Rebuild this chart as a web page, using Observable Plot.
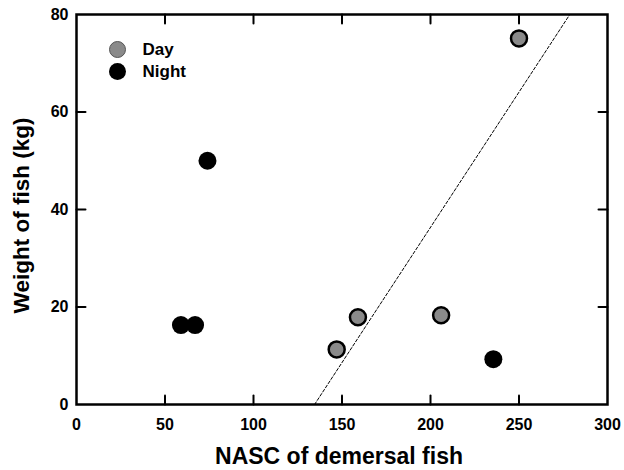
<!DOCTYPE html>
<html><head><meta charset="utf-8">
<script src="https://cdn.jsdelivr.net/npm/d3@7"></script>
<script src="https://cdn.jsdelivr.net/npm/@observablehq/plot@0.6"></script>
<style>
body{margin:0;background:#fff;}
#chart svg{font-family:"Liberation Sans",Arial,sans-serif;}
</style>
</head><body><div id="chart"></div>
<script>
const dayNASC = [147, 159, 206, 250];
const dayWeight = [11.3, 17.9, 18.3, 75.1];
const nightNASC = [74, 59, 67, 235.5];
const nightWeight = [50, 16.3, 16.3, 9.3];
const lineX = [134.5, 278.7];
const lineY = [0, 80];
const xTicks = [0, 50, 100, 150, 200, 250, 300];
const yTicks = [0, 20, 40, 60, 80];
const innerXTicks = [50, 100, 150, 200, 250];
const innerYTicks = [20, 40, 60];
const legendLabels = ["Day", "Night"];
const xTitle = "NASC of demersal fish";
const yTitle = "Weight of fish (kg)";

const day = dayNASC.map((x, i) => ({x, y: dayWeight[i]}));
const night = nightNASC.map((x, i) => ({x, y: nightWeight[i]}));
const fitLine = lineX.map((x, i) => ({x, y: lineY[i]}));
const tickShape = {draw(ctx, l) { ctx.moveTo(0, 0); ctx.lineTo(0, -l); }};
const TL = 9;

const chart = Plot.plot({
  width: 624, height: 470,
  marginLeft: 76, marginRight: 17, marginTop: 14, marginBottom: 66,
  x: {domain: [0, 300]},
  y: {domain: [0, 80]},
  style: {fontFamily: "'Liberation Sans', Arial, sans-serif", fontWeight: "bold", fontSize: "16px", color: "#000"},
  marks: [
    Plot.line(fitLine, {x: "x", y: "y", stroke: "#000", strokeWidth: 1, strokeDasharray: "3,2", clip: true}),
    Plot.vector(innerXTicks, {x: d => d, frameAnchor: "bottom", rotate: 0, length: TL, anchor: "start", shape: tickShape, stroke: "#000", strokeWidth: 2}),
    Plot.vector(innerXTicks, {x: d => d, frameAnchor: "top", rotate: 180, length: TL, anchor: "start", shape: tickShape, stroke: "#000", strokeWidth: 2}),
    Plot.vector(innerYTicks, {y: d => d, frameAnchor: "left", rotate: 90, length: TL, anchor: "start", shape: tickShape, stroke: "#000", strokeWidth: 2}),
    Plot.vector(innerYTicks, {y: d => d, frameAnchor: "right", rotate: -90, length: TL, anchor: "start", shape: tickShape, stroke: "#000", strokeWidth: 2}),
    Plot.frame({stroke: "#000", strokeWidth: 2.5}),
    Plot.axisX({ticks: xTicks, tickSize: 0, tickPadding: 14, label: null, fontSize: 16, fontWeight: "bold", fill: "#000"}),
    Plot.axisY({ticks: yTicks, tickSize: 0, tickPadding: 8, label: null, fontSize: 16, fontWeight: "bold", fill: "#000"}),
    Plot.dot(day, {x: "x", y: "y", r: 8, fill: "#8a8a8a", stroke: "#000", strokeWidth: 2.5}),
    Plot.dot(night, {x: "x", y: "y", r: 9, fill: "#000", stroke: "none"}),
    Plot.dot([legendLabels[0]], {frameAnchor: "top-left", dx: 41, dy: 35, r: 8, fill: "#8a8a8a", stroke: "#555", strokeWidth: 1}),
    Plot.dot([legendLabels[1]], {frameAnchor: "top-left", dx: 41, dy: 57, r: 8.5, fill: "#000"}),
    Plot.text([legendLabels[0]], {text: d => d, frameAnchor: "top-left", dx: 66, dy: 35, textAnchor: "start", lineAnchor: "middle", fontSize: 17, fontWeight: "bold", fill: "#000"}),
    Plot.text([legendLabels[1]], {text: d => d, frameAnchor: "top-left", dx: 66, dy: 57, textAnchor: "start", lineAnchor: "middle", fontSize: 17, fontWeight: "bold", fill: "#000"}),
    Plot.text([xTitle], {text: d => d, frameAnchor: "bottom", dx: -3, dy: 52, textAnchor: "middle", lineAnchor: "middle", fontSize: 23, fontWeight: "bold", fill: "#000"}),
    Plot.text([yTitle], {text: d => d, frameAnchor: "left", dx: -55, dy: 6, rotate: -90, textAnchor: "middle", lineAnchor: "middle", fontSize: 22.5, fontWeight: "bold", fill: "#000"})
  ]
});
document.getElementById("chart").appendChild(chart);
</script>
</body></html>
